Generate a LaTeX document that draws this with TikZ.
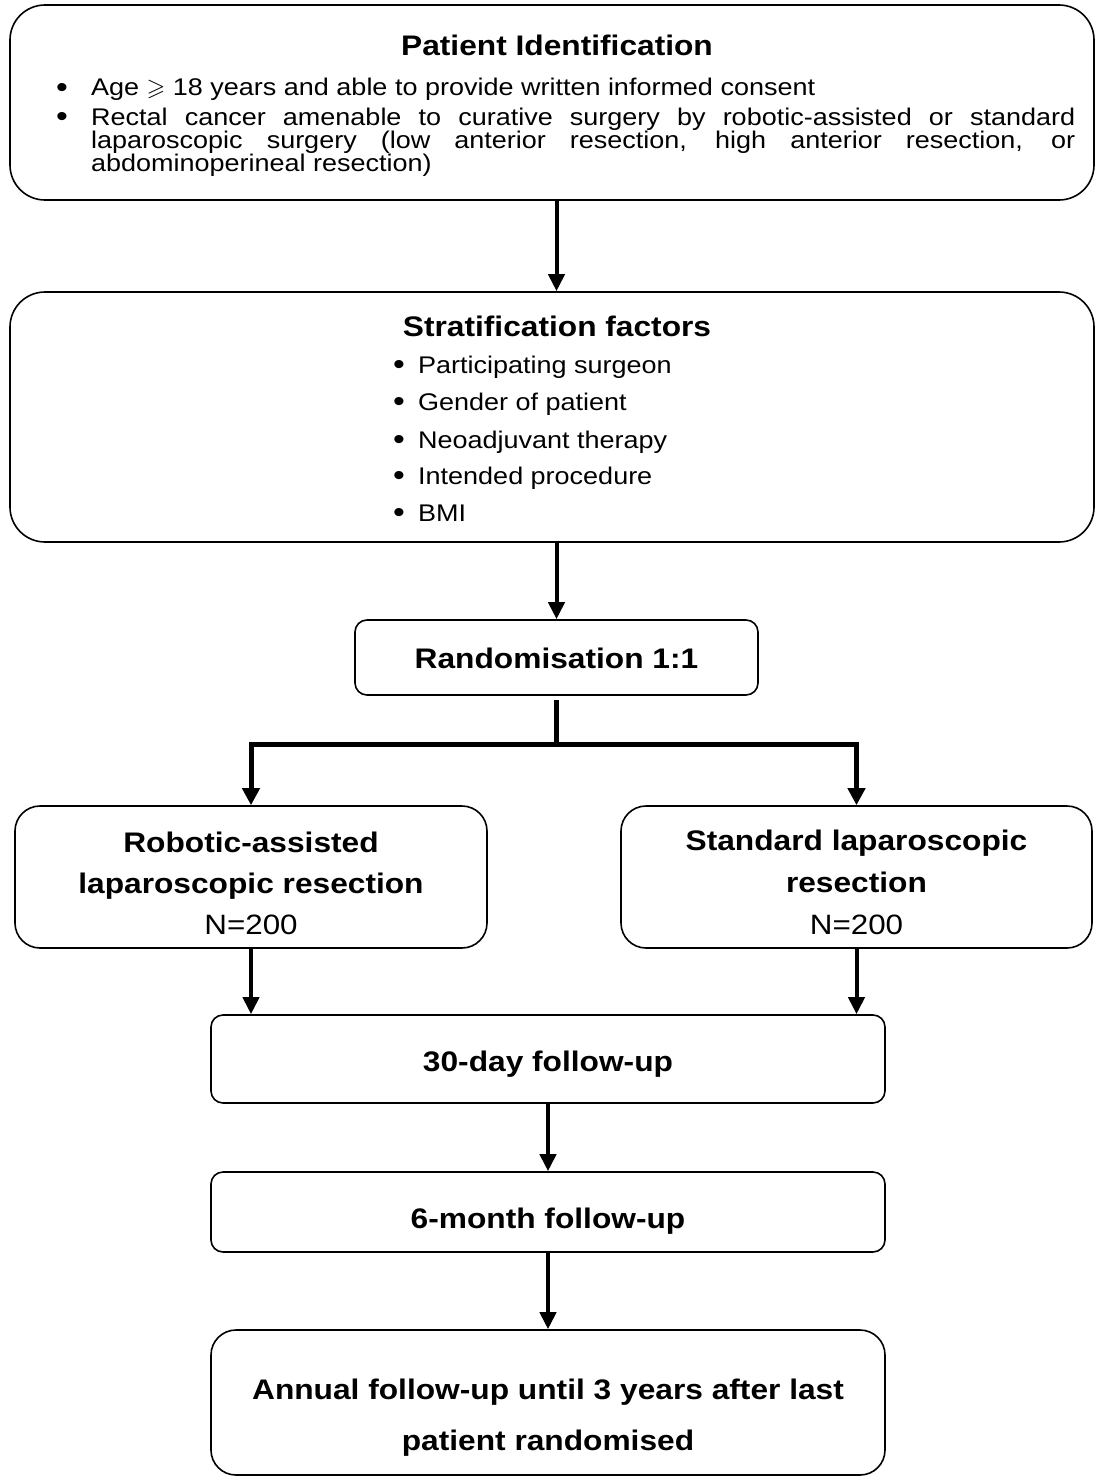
\documentclass[tikz,border=0pt]{standalone}
\usepackage{fontspec}
\setmainfont{Liberation Sans}[FakeStretch=1.12]
\usepackage{amssymb}
\usetikzlibrary{arrows.meta}
\tikzset{
  rbox/.style={draw, line width=1.6pt, rounded corners=#1, inner sep=0pt},
  arr/.style={line width=4pt, -{Triangle[length=17pt,width=16pt]}},
  splitline/.style={line width=5pt},
  splitarr/.style={line width=5pt, {Triangle[length=17pt,width=17pt]}-{Triangle[length=17pt,width=17pt]}},
  normtxt/.style={font=\fontsize{24.1}{23.5}\selectfont, inner sep=0pt},
  bulltxt/.style={font=\fontsize{30}{30}\selectfont, inner sep=0pt},
  boldtxt/.style={font=\fontsize{28.3}{30}\selectfont\bfseries, inner sep=0pt},
  bigtxt/.style={font=\fontsize{28}{30}\selectfont, inner sep=0pt},
}
\begin{document}
\begin{tikzpicture}[x=1pt,y=-1pt]
\useasboundingbox (0,0) rectangle (1096,1477);

% boxes
\node[rbox=35, minimum width=1084, minimum height=195] (top) at (552,102.5) {};
\node[rbox=35, minimum width=1084, minimum height=250] (strat) at (552,417) {};
\node[rbox=12, minimum width=403, minimum height=75] (rand) at (556.5,657.5) {};
\node[rbox=25, minimum width=472, minimum height=142] (rob) at (251,877) {};
\node[rbox=25, minimum width=471, minimum height=142] (std) at (856.5,877) {};
\node[rbox=12, minimum width=674, minimum height=88] (d30) at (548,1059) {};
\node[rbox=12, minimum width=674, minimum height=80] (m6) at (548,1212) {};
\node[rbox=25, minimum width=674, minimum height=145] (ann) at (548,1402.5) {};

% top box text
\node[boldtxt, anchor=base] (toptitle) at (557,56) {Patient Identification};
\node[bulltxt, anchor=base] (tb1) at (62,98) {•};
\node[normtxt, anchor=base west, text width=984, align=justify] (tt1) at (91,96)
  {Age $\geqslant$ 18 years and able to provide written informed consent};
\node[bulltxt, anchor=base] (tb2) at (62,127) {•};
\node[normtxt, anchor=base west, text width=984, align=justify] (tt2) at (91,125)
  {Rectal cancer amenable to curative surgery by robotic-assisted or standard\linebreak
   laparoscopic surgery (low anterior resection, high anterior resection, or\linebreak
   abdominoperineal resection)};

% stratification text
\node[boldtxt, anchor=base] (sttitle) at (557,336) {Stratification factors};
\node[bulltxt, anchor=base] (sb1) at (399,374) {•};
\node[normtxt, anchor=base west] (st1) at (418,373) {Participating surgeon};
\node[bulltxt, anchor=base] (sb2) at (399,411) {•};
\node[normtxt, anchor=base west] (st2) at (418,410) {Gender of patient};
\node[bulltxt, anchor=base] (sb3) at (399,449) {•};
\node[normtxt, anchor=base west] (st3) at (418,448) {Neoadjuvant therapy};
\node[bulltxt, anchor=base] (sb4) at (399,485) {•};
\node[normtxt, anchor=base west] (st4) at (418,484) {Intended procedure};
\node[bulltxt, anchor=base] (sb5) at (399,522) {•};
\node[normtxt, anchor=base west] (st5) at (418,521) {BMI};

% randomisation
\node[boldtxt, anchor=base] (randtxt) at (556.5,668) {Randomisation 1:1};

% arms
\node[boldtxt, anchor=base] (rob1) at (251,852) {Robotic-assisted};
\node[boldtxt, anchor=base] (rob2) at (251,893) {laparoscopic resection};
\node[bigtxt, anchor=base] (rob3) at (251,934) {N=200};
\node[boldtxt, anchor=base] (std1) at (856.5,850) {Standard laparoscopic};
\node[boldtxt, anchor=base] (std2) at (856.5,892) {resection};
\node[bigtxt, anchor=base] (std3) at (856.5,934) {N=200};

% follow-ups
\node[boldtxt, anchor=base] (d30txt) at (548,1071) {30-day follow-up};
\node[boldtxt, anchor=base] (m6txt) at (548,1228) {6-month follow-up};
\node[boldtxt, anchor=base] (ann1) at (548,1399) {Annual follow-up until 3 years after last};
\node[boldtxt, anchor=base] (ann2) at (548,1450) {patient randomised};

% connectors
\draw[arr] (top.south -| rand.north) -- (strat.north -| rand.north);
\draw[arr] (strat.south -| rand.north) -- (rand.north);
\coordinate (split) at (556.5,744);
\draw[splitline] ([yshift=-4pt]rand.south) -- (split);
\draw[splitarr] (rob.north) |- (split) -| (std.north);
\draw[arr] (rob.south) -- (rob.south |- d30.north);
\draw[arr] (std.south) -- (std.south |- d30.north);
\draw[arr] (d30.south) -- (m6.north);
\draw[arr] (m6.south) -- (ann.north);
\end{tikzpicture}
\end{document}
